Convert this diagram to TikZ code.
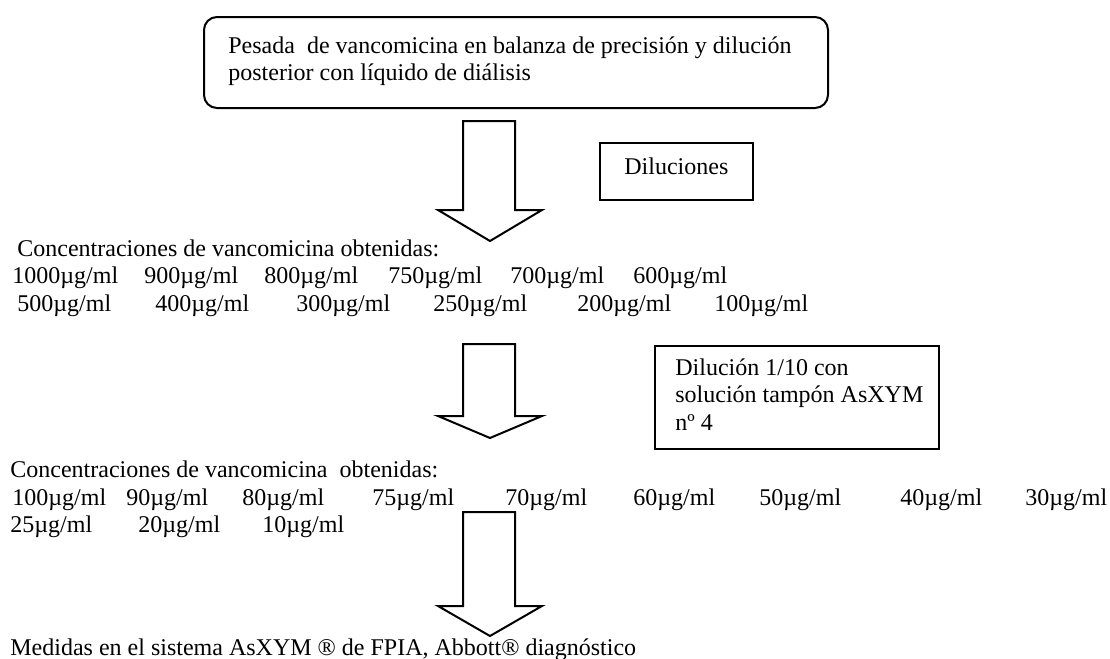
\documentclass[tikz,border=0pt]{standalone}
\usepackage{fontspec}
\setmainfont{Liberation Serif}
\tikzset{
  txt/.style={anchor=base west, inner sep=0pt, font=\fontsize{12}{13.8}\selectfont},
  roundbox/.style={draw, line width=1pt, rounded corners=6.5pt, anchor=north west, inner sep=0pt},
  plainbox/.style={draw, line width=0.8pt, anchor=north west, inner sep=0pt},
  blockarr/.style={draw, line width=1pt, fill=white, line join=miter},
}
\begin{document}
\begin{tikzpicture}[x=0.5pt, y=-0.5pt]
\useasboundingbox (0,0) rectangle (1110,659);
% top rounded box
\node[roundbox, minimum width=312pt, minimum height=45.5pt] (topbox) at (203,16) {};
\node[txt] (t1) at (228,53) {Pesada\ \ de vancomicina en balanza de precisión y dilución};
\node[txt] (t2) at (228,80) {posterior con líquido de diálisis};
% arrow 1
\draw[blockarr] (463,121) -- (515,121) -- (515,210) -- (542,210) -- (490,241) -- (438,210) -- (463,210) -- cycle;
% Diluciones box
\node[plainbox, minimum width=76.5pt, minimum height=28.5pt] (dilbox) at (599,142) {};
\node[txt] (dil) at (624,174) {Diluciones};
% group 1
\node[txt] (c1) at (17,256) {Concentraciones de vancomicina obtenidas:};
\node[txt] (r11) at (12,283) {1000µg/ml};
\node[txt] (r12) at (144,283) {900µg/ml};
\node[txt] (r13) at (264,283) {800µg/ml};
\node[txt] (r14) at (388,283) {750µg/ml};
\node[txt] (r15) at (510,283) {700µg/ml};
\node[txt] (r16) at (633,283) {600µg/ml};
\node[txt] (r21) at (17,311) {500µg/ml};
\node[txt] (r22) at (155,311) {400µg/ml};
\node[txt] (r23) at (296,311) {300µg/ml};
\node[txt] (r24) at (433,311) {250µg/ml};
\node[txt] (r25) at (577,311) {200µg/ml};
\node[txt] (r26) at (714,311) {100µg/ml};
% arrow 2
\draw[blockarr] (463,344) -- (515,344) -- (515,416) -- (542,416) -- (490,438) -- (438,416) -- (463,416) -- cycle;
% Dilución box
\node[plainbox, minimum width=142pt, minimum height=51.5pt] (tbox) at (654,345) {};
\node[txt] (d1) at (675,375) {Dilución 1/10 con};
\node[txt] (d2) at (675,402.5) {solución tampón AsXYM};
\node[txt] (d3) at (675,430) {nº 4};
% group 2
\node[txt] (c2) at (10,477) {Concentraciones de vancomicina\ \ obtenidas:};
\node[txt] (s11) at (12,505) {100µg/ml};
\node[txt] (s12) at (126,505) {90µg/ml};
\node[txt] (s13) at (242,505) {80µg/ml};
\node[txt] (s14) at (372,505) {75µg/ml};
\node[txt] (s15) at (505,505) {70µg/ml};
\node[txt] (s16) at (633,505) {60µg/ml};
\node[txt] (s17) at (759,505) {50µg/ml};
\node[txt] (s18) at (900,505) {40µg/ml};
\node[txt] (s19) at (1025,505) {30µg/ml};
\node[txt] (s21) at (10,532) {25µg/ml};
\node[txt] (s22) at (138,532) {20µg/ml};
\node[txt] (s23) at (262,532) {10µg/ml};
% arrow 3
\draw[blockarr] (463,512) -- (515,512) -- (515,606) -- (542,606) -- (490,636) -- (438,606) -- (463,606) -- cycle;
% final
\node[txt] (fin) at (10,655) {Medidas en el sistema AsXYM ® de FPIA, Abbott® diagnóstico};
\end{tikzpicture}
\end{document}
